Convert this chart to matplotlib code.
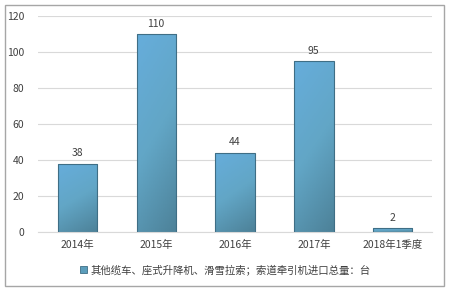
import matplotlib.pyplot as plt
import numpy as np
from matplotlib.colors import LinearSegmentedColormap
from matplotlib.patches import Rectangle

plt.rcParams['font.family'] = ['Noto Sans CJK SC', 'DejaVu Sans']

categories = ['2014年', '2015年', '2016年', '2017年', '2018年1季度']
values = [38, 110, 44, 95, 2]
series_name = '其他缆车、座式升降机、滑雪拉索；索道牵引机进口总量：台'

fig = plt.figure(figsize=(4.5, 2.93), dpi=100)
ax = fig.add_axes([38 / 450, 1 - 232 / 293, 394 / 450, 216 / 293])

x = np.arange(len(categories))
bars = ax.bar(x, values, width=0.5, color='#5b9dbb', edgecolor='#3f6e85',
              linewidth=0.8, zorder=2)

# gradient inside each bar, light at the top to dark at the bottom right
cmap = LinearSegmentedColormap.from_list('g', ['#66addb', '#62a6c6', '#4d8299'])
gy, gx = np.mgrid[0:1:50j, 0:1:20j]
grad = gy * 0.75 + gx * 0.25
for b in bars:
    x0, y0, w, h = b.get_x(), b.get_y(), b.get_width(), b.get_height()
    im = ax.imshow(grad, cmap=cmap, vmin=0, vmax=1,
                   extent=[x0, x0 + w, y0, y0 + h],
                   origin='upper', aspect='auto', zorder=2)
    im.set_clip_path(b)
    b.set_facecolor('none')
    b.set_zorder(3)

for xi, v in zip(x, values):
    ax.text(xi, v + 3, str(v), ha='center', va='bottom', fontsize=7.5,
            color='#404040')

ax.set_xlim(-0.5, len(categories) - 0.5)
ax.set_ylim(0, 120)
ax.set_yticks(range(0, 121, 20))
ax.set_xticks(x)
ax.set_xticklabels(categories)
ax.tick_params(axis='both', length=0, labelsize=7.5, colors='#404040')
ax.tick_params(axis='x', pad=6)
ax.tick_params(axis='y', pad=10)
ax.yaxis.grid(True, color='#d9d9d9', linewidth=0.8, zorder=0)
ax.set_axisbelow(True)
for s in ['top', 'right', 'left']:
    ax.spines[s].set_visible(False)
ax.spines['bottom'].set_color('#d9d9d9')

handle = Rectangle((0, 0), 1, 1, facecolor='#5b9dbb', edgecolor='#3f6e85',
                   linewidth=0.6)
fig.legend([handle], [series_name], loc='center', bbox_to_anchor=(0.5, 1 - 270 / 293),
           frameon=False, fontsize=7.5, handlelength=0.7, handleheight=0.7,
           handletextpad=0.3, labelcolor='#404040')

fig.patches.append(Rectangle((5 / 450, 1 - 286 / 293), 439 / 450, 281 / 293,
                             transform=fig.transFigure, fill=False,
                             edgecolor='#a6a6a6', linewidth=1.0))

fig.savefig('out.png', dpi=100)
